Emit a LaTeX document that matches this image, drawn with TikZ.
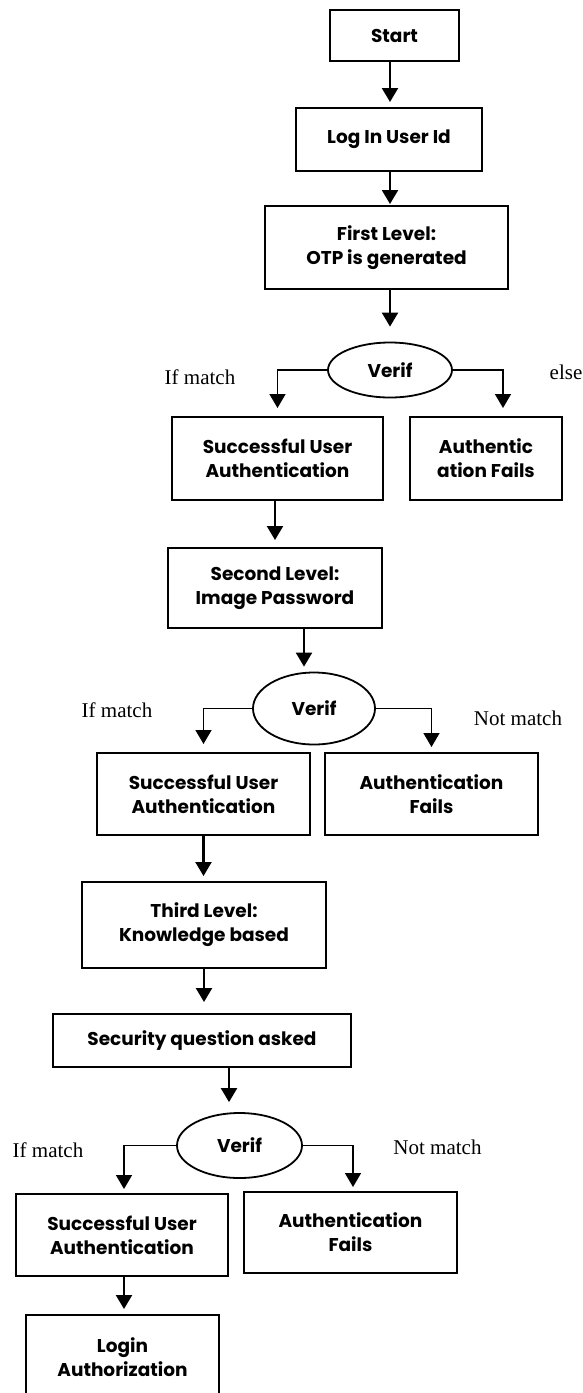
\documentclass[tikz,border=0pt]{standalone}
\usepackage{fontspec}
\setmainfont{Liberation Serif}
\setsansfont{Poppins}
\usetikzlibrary{arrows.meta,shapes.geometric}
\begin{document}
\begin{tikzpicture}[x=1pt,y=-1pt,
  box/.style={draw, line width=2pt, rectangle, align=center, inner sep=0pt,
    font=\sffamily\bfseries\fontsize{18.5}{24}\selectfont},
  oval/.style={draw, line width=1.8pt, ellipse, inner sep=0pt,
    font=\sffamily\bfseries\fontsize{18.5}{24}\selectfont},
  lbl/.style={font=\rmfamily\fontsize{21}{25}\selectfont, inner sep=0pt},
  arr/.style={line width=2.2pt, -{Triangle[width=16pt,length=14pt]}},
  elb/.style={line width=1.6pt, -{Triangle[width=16pt,length=14pt]}}]
\useasboundingbox (0,0) rectangle (582,1393);
\clip (0,0) rectangle (582,1393);

% nodes
\node[box, minimum width=129pt, minimum height=51pt] (start) at (394.5,35.5) {Start};
\node[box, minimum width=186pt, minimum height=63pt] (login) at (389,139.5) {Log In User Id};
\node[box, minimum width=243pt, minimum height=83pt] (first) at (386.5,247.5) {First Level:\\OTP is generated};
\node[oval, minimum width=124pt, minimum height=55pt] (verif1) at (390,370) {Verif};
\node[box, minimum width=211pt, minimum height=83pt] (succ1) at (277.5,458.5) {Successful User\\Authentication};
\node[box, minimum width=152pt, minimum height=83pt] (fail1) at (486,458.5) {Authentic\\ation Fails};
\node[box, minimum width=214pt, minimum height=80pt] (second) at (275,588) {Second Level:\\Image Password};
\node[oval, minimum width=122pt, minimum height=72pt] (verif2) at (314,708.5) {Verif};
\node[box, minimum width=213pt, minimum height=82pt] (succ2) at (203.5,794) {Successful User\\Authentication};
\node[box, minimum width=213pt, minimum height=82pt] (fail2) at (431.5,794) {Authentication\\Fails};
\node[box, minimum width=244pt, minimum height=86pt] (third) at (204,925) {Third Level:\\Knowledge based};
\node[box, minimum width=298pt, minimum height=53pt] (security) at (202,1040.5) {Security question asked};
\node[oval, minimum width=125pt, minimum height=65pt] (verif3) at (239.5,1145.5) {Verif};
\node[box, minimum width=212pt, minimum height=82pt] (succ3) at (122,1235) {Successful User\\Authentication};
\node[box, minimum width=213pt, minimum height=81pt] (fail3) at (350.5,1232.5) {Authentication\\Fails};
\node[box, minimum width=193pt, minimum height=84pt] (loginauth) at (122.5,1357) {Login\\Authorization};

% labels
\node[lbl] (m1) at (200,377) {If match};
\node[lbl] (e1) at (566,372) {else};
\node[lbl] (m2) at (117,710) {If match};
\node[lbl] (n2) at (518,718) {Not match};
\node[lbl] (m3) at (48,1150) {If match};
\node[lbl] (n3) at (437.5,1147) {Not match};

% connectors
\draw[arr, shorten >=5pt] ([xshift=-4.5pt]start.south) -- ([xshift=-4.5pt]start.south |- login.north);
\draw[arr, shorten >=1pt] ([xshift=1pt]login.south) -- ([xshift=1pt]login.south |- first.north);
\draw[arr, shorten >=15pt] ([xshift=3.5pt]first.south) -- ([xshift=3.5pt]first.south |- verif1.north);
\draw[elb, shorten >=8pt] (verif1.west) -| (succ1.north);
\draw[elb, shorten >=8pt] (verif1.east) -| ([xshift=17pt]fail1.north);
\draw[arr, shorten >=7pt] ([xshift=-2.5pt]succ1.south) -- ([xshift=-2.5pt]succ1.south |- second.north);
\draw[arr, shorten >=5pt] ([xshift=29pt]second.south) -- ([xshift=29pt]second.south |- verif2.north);
\draw[elb, shorten >=8pt] (verif2.west) -| (succ2.north);
\draw[elb, shorten >=5pt] (verif2.east) -| (fail2.north);
\draw[arr, shorten >=5pt] (succ2.south) -- (succ2.south |- third.north);
\draw[arr, shorten >=11pt] (third.south) -- (third.south |- security.north);
\draw[arr, shorten >=10pt] ([xshift=27pt]security.south) -- ([xshift=27pt]security.south |- verif3.north);
\draw[elb, shorten >=4pt] (verif3.west) -| ([xshift=2pt]succ3.north);
\draw[elb, shorten >=4pt] (verif3.east) -| ([xshift=2.5pt]fail3.north);
\draw[arr, shorten >=5pt] ([xshift=2pt]succ3.south) -- ([xshift=2pt]succ3.south |- loginauth.north);
\end{tikzpicture}
\end{document}
